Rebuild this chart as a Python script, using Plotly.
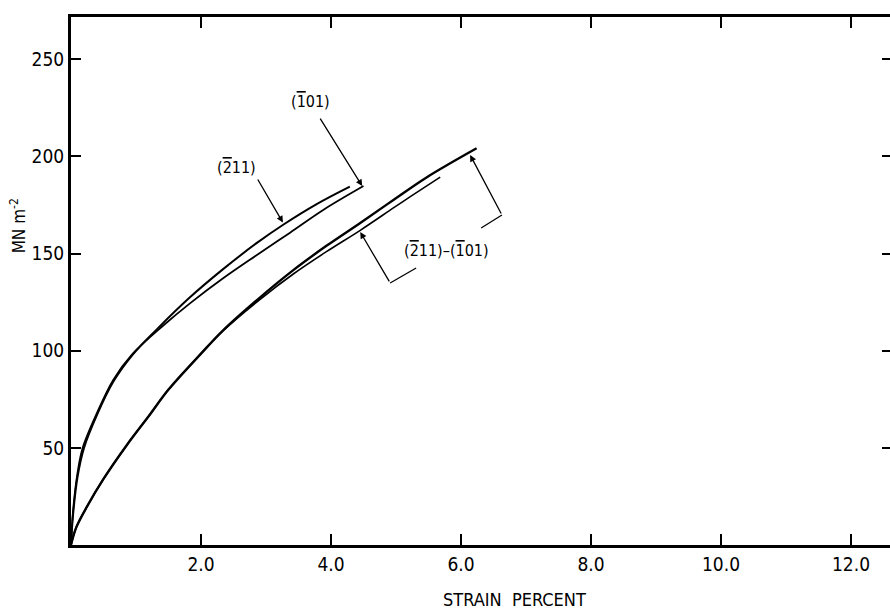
import plotly.graph_objects as go

# ---- data ----
strain_211 = [0, 0.03, 0.1, 0.2, 0.4, 0.65, 0.95, 1.32, 1.83, 2.34, 2.86, 3.27, 3.78, 4.29]
stress_211 = [0, 15, 35, 50, 67, 84, 98, 111, 127.5, 142, 155.5, 165, 175.5, 184.5]

strain_101 = [0, 0.03, 0.1, 0.18, 0.4, 0.65, 0.95, 1.42, 1.83, 2.34, 2.86, 3.37, 3.88, 4.50]
stress_101 = [0, 17, 37, 50, 68, 85, 98.5, 113, 124.4, 137.3, 149.3, 160.8, 172.5, 184.8]

strain_diff_a = [0, 0.08, 0.25, 0.5, 0.86, 1.2, 1.5, 2.0, 2.34, 2.91, 3.42, 3.93, 4.45, 4.96, 5.47, 6.24]
stress_diff_a = [0, 9, 20, 34, 51.5, 66.5, 80, 98.5, 110.5, 127.5, 141.5, 154, 165.8, 177.6, 189.2, 204.2]

strain_diff_b = [0, 0.08, 0.25, 0.5, 0.86, 1.2, 1.5, 2.0, 2.34, 2.91, 3.42, 3.93, 4.45, 4.96, 5.22, 5.68]
stress_diff_b = [0, 9, 20, 34, 51.5, 66.5, 80, 98.5, 110.3, 126.5, 139.5, 151, 162, 173.5, 179.3, 189.4]

x_tickvals = [2, 4, 6, 8, 10, 12]
x_ticktext = ["2.0", "4.0", "6.0", "8.0", "10.0", "12.0"]
y_tickvals = [50, 100, 150, 200, 250]
y_ticktext = ["50", "100", "150", "200", "250"]

BAR = '<span style="text-decoration:overline">{}</span>'
label_211 = "(" + BAR.format("2") + "11)"
label_101 = "(" + BAR.format("1") + "01)"
label_diff = label_211 + "\u2013" + label_101

FONT = "DejaVu Sans Condensed, Liberation Sans, Arial, sans-serif"

fig = go.Figure()
fig.add_trace(go.Scatter(x=strain_211, y=stress_211, mode="lines", line=dict(color="black", width=2),
                         line_shape="spline", showlegend=False, hoverinfo="skip"))
fig.add_trace(go.Scatter(x=strain_101, y=stress_101, mode="lines", line=dict(color="black", width=1.8),
                         line_shape="spline", showlegend=False, hoverinfo="skip"))
fig.add_trace(go.Scatter(x=strain_diff_a, y=stress_diff_a, mode="lines", line=dict(color="black", width=2.4),
                         line_shape="spline", showlegend=False, hoverinfo="skip"))
fig.add_trace(go.Scatter(x=strain_diff_b, y=stress_diff_b, mode="lines", line=dict(color="black", width=1.6),
                         line_shape="spline", showlegend=False, hoverinfo="skip"))
# invisible trace to carry the right-hand tick axis
fig.add_trace(go.Scatter(x=[0], y=[0], yaxis="y2", mode="markers", marker=dict(opacity=0),
                         showlegend=False, hoverinfo="skip"))

X_MAX = 12.6
Y_MAX = 271.8

fig.update_layout(
    width=890, height=610,
    margin=dict(l=71, r=0, t=17, b=65),
    paper_bgcolor="white", plot_bgcolor="white",
    font=dict(family=FONT, color="black", size=19),
    xaxis=dict(range=[0, X_MAX], showgrid=False, zeroline=False,
               showline=True, linecolor="black", linewidth=3, mirror="ticks",
               ticks="inside", ticklen=11, tickwidth=2, tickcolor="black",
               tickvals=x_tickvals, ticktext=x_ticktext,
               tickfont=dict(family=FONT, size=19)),
    yaxis=dict(range=[0, Y_MAX], showgrid=False, zeroline=False,
               showline=True, linecolor="black", linewidth=3, mirror=False,
               ticks="inside", ticklen=10, tickwidth=2, tickcolor="black",
               tickvals=y_tickvals, ticktext=y_ticktext,
               tickfont=dict(family=FONT, size=19)),
    yaxis2=dict(range=[0, Y_MAX], overlaying="y", side="right", showgrid=False,
                zeroline=False, showline=False, ticks="inside", ticklen=8,
                tickwidth=2, tickcolor="black", tickvals=y_tickvals,
                showticklabels=False),
)

ann_font = dict(family=FONT, size=16, color="black")
arrow = dict(xref="x", yref="y", axref="x", ayref="y", text="", showarrow=True,
             arrowhead=2, arrowsize=1, arrowwidth=1.3, arrowcolor="black")
annotations = [
    # labels
    dict(x=2.55, y=194.1, xref="x", yref="y", text=label_211, showarrow=False, font=ann_font),
    dict(x=3.68, y=228.1, xref="x", yref="y", text=label_101, showarrow=False, font=ann_font),
    dict(x=5.78, y=151.4, xref="x", yref="y", text=label_diff, showarrow=False, font=ann_font),
    # leader arrows
    dict(x=3.26, y=166.0, ax=2.86, ay=188.9, **arrow),
    dict(x=4.48, y=184.8, ax=3.82, ay=220.3, **arrow),
    dict(x=6.14, y=200.8, ax=6.63, ay=169.9, **arrow),
    dict(x=4.45, y=161.1, ax=4.91, ay=134.9, **arrow),
    # axis titles
    dict(x=-0.065, y=0.605, xref="paper", yref="paper", text="MN m<sup>-2</sup>",
         textangle=-90, showarrow=False, font=dict(family=FONT, size=17, color="black"),
         xanchor="center", yanchor="middle"),
    dict(x=0.542, y=-0.104, xref="paper", yref="paper", text="STRAIN&nbsp;&nbsp;PERCENT",
         showarrow=False, font=dict(family=FONT, size=18, color="black"),
         xanchor="center", yanchor="middle"),
]
fig.update_layout(annotations=annotations)

fig.update_layout(shapes=[
    dict(type="line", x0=6.63, y0=169.9, x1=6.31, y1=163.2, xref="x", yref="y",
         line=dict(color="black", width=1.3)),
    dict(type="line", x0=4.91, y0=134.9, x1=5.31, y1=142.6, xref="x", yref="y",
         line=dict(color="black", width=1.3)),
])

fig.write_html("out.html", config={"displayModeBar": False},
               post_script="document.body.style.margin='0px';document.body.style.overflow='hidden';")
